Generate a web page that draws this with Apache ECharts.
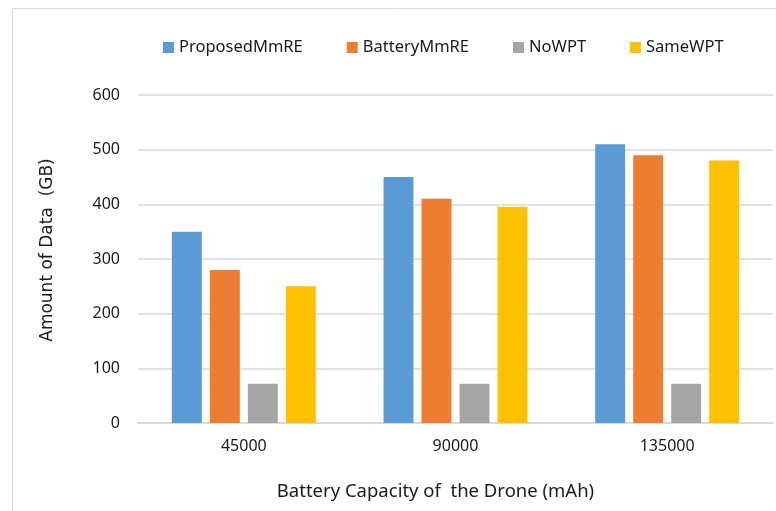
<!DOCTYPE html>
<html>
<head>
<meta charset="utf-8">
<script src="https://cdn.jsdelivr.net/npm/echarts@6/dist/echarts.min.js"></script>
<style>
  html, body { margin: 0; padding: 0; background: #fff; }
  #chart { width: 776px; height: 511px; }
</style>
</head>
<body>
<div id="chart"></div>
<script>
// Battery capacity categories (mAh)
const capacities = ['45000', '90000', '135000'];

// Amount of collected data (GB) per scheme
const proposedMmRE = [350, 450, 510];
const batteryMmRE = [280, 410, 490];
const noWPT = [72, 72, 72];
const sameWPT = [250, 395, 480];

const seriesNames = ['ProposedMmRE', 'BatteryMmRE', 'NoWPT', 'SameWPT'];
const seriesColors = ['#5B9BD5', '#ED7D31', '#A5A5A5', '#FFC000'];
const seriesValues = [proposedMmRE, batteryMmRE, noWPT, sameWPT];

const chart = echarts.init(document.getElementById('chart'), null, { renderer: 'canvas' });

const fontMain = '"Noto Sans", "Open Sans", sans-serif';

chart.setOption({
  animation: false,
  backgroundColor: '#ffffff',
  color: seriesColors,
  graphic: [{
    type: 'rect',
    silent: true,
    shape: { x: 12.5, y: 8.5, width: 900, height: 700 },
    style: { fill: 'none', stroke: '#d9d9d9', lineWidth: 1 }
  }],
  legend: {
    data: seriesNames,
    left: 158,
    top: 34,
    itemWidth: 11,
    itemHeight: 11,
    itemGap: 44,
    icon: 'rect',
    textStyle: { fontFamily: fontMain, fontSize: 16.5, color: '#1a1a1a' }
  },
  grid: { left: 138, right: 3, top: 95, bottom: 88, containLabel: false },
  xAxis: {
    type: 'category',
    data: capacities,
    name: 'Battery Capacity of  the Drone (mAh)',
    nameLocation: 'middle',
    nameGap: 59,
    nameTextStyle: { fontFamily: fontMain, fontSize: 18.5, color: '#1a1a1a', padding: [0, 40, 0, 0] },
    axisLine: { show: true, lineStyle: { color: '#d9d9d9', width: 2 } },
    axisTick: { show: false },
    axisLabel: { fontFamily: fontMain, fontSize: 16, color: '#1a1a1a', margin: 15 }
  },
  yAxis: {
    type: 'value',
    min: 0,
    max: 600,
    interval: 100,
    name: 'Amount of Data  (GB)',
    nameLocation: 'middle',
    nameGap: 82,
    nameTextStyle: { fontFamily: '"DejaVu Sans", sans-serif', fontSize: 17, color: '#1a1a1a', padding: [0, 0, 0, 18] },
    axisLine: { show: false },
    axisTick: { show: false },
    axisLabel: { fontFamily: fontMain, fontSize: 16, color: '#1a1a1a', margin: 18 },
    splitLine: { lineStyle: { color: '#d9d9d9', width: 1.5 } }
  },
  series: seriesNames.map((name, i) => ({
    name: name,
    type: 'bar',
    data: seriesValues[i],
    barGap: '27%',
    barCategoryGap: '32%',
    itemStyle: { color: seriesColors[i] }
  }))
});
</script>
</body>
</html>
